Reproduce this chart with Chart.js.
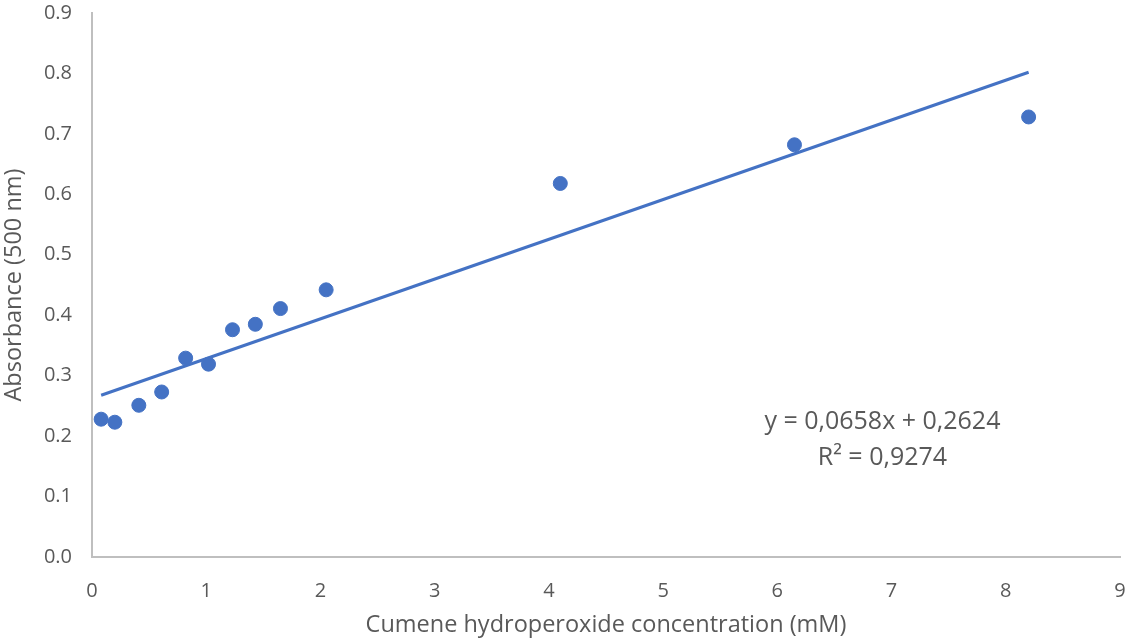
<!DOCTYPE html>
<html>
<head>
<meta charset="utf-8">
<script src="https://cdn.jsdelivr.net/npm/chart.js@4"></script>
<style>
  html, body { margin: 0; padding: 0; background: #fff; }
  #wrap { width: 1129px; height: 639px; }
</style>
</head>
<body>
<div id="wrap"><canvas id="chartContainer"></canvas></div>
<script>
// measured concentrations (mM) and absorbance
var concentration = [0.08, 0.2, 0.41, 0.61, 0.82, 1.02, 1.23, 1.43, 1.65, 2.05, 4.1, 6.15, 8.2];
var absorbance = [0.228, 0.223, 0.251, 0.273, 0.329, 0.319, 0.376, 0.385, 0.411, 0.442, 0.618, 0.682, 0.728];
var yTicks = [0, 0.1, 0.2, 0.3, 0.4, 0.5, 0.6, 0.7, 0.8, 0.9];
var xTicks = [0, 1, 2, 3, 4, 5, 6, 7, 8, 9];
var slope = 0.0658, intercept = 0.2624;
var equationText = ['y = 0,0658x + 0,2624', 'R² = 0,9274'];

var points = concentration.map(function (c, i) { return { x: c, y: absorbance[i] }; });
var xMin = concentration[0], xMax = concentration[concentration.length - 1];
var trend = [{ x: xMin, y: slope * xMin + intercept }, { x: xMax, y: slope * xMax + intercept }];

var grey = '#595959';
var axisGrey = '#bfbfbf';
var font = '"Open Sans", "Noto Sans", sans-serif';

// draws the trendline equation like the spreadsheet label
var equationLabel = {
    id: 'equationLabel',
    afterDatasetsDraw: function (chart) {
        var c = chart.ctx;
        var xs = chart.scales.x, ys = chart.scales.y;
        c.save();
        c.fillStyle = grey;
        c.font = '25px ' + font;
        c.textAlign = 'center';
        c.textBaseline = 'middle';
        c.fillText(equationText[0], xs.getPixelForValue(6.92), ys.getPixelForValue(0.223));
        c.fillText(equationText[1], xs.getPixelForValue(6.92), ys.getPixelForValue(0.164));
        c.restore();
    }
};

var ctx = document.getElementById('chartContainer').getContext('2d');
var chart = new Chart(ctx, {
    type: 'scatter',
    data: {
        datasets: [{
            label: 'Absorbance',
            data: points,
            backgroundColor: '#4472c4',
            borderColor: '#4472c4',
            pointRadius: 7,
            pointHoverRadius: 7,
            order: 1
        }, {
            label: 'Linear',
            type: 'line',
            data: trend,
            borderColor: '#4472c4',
            borderWidth: 3,
            pointRadius: 0,
            fill: false,
            order: 2
        }]
    },
    options: {
        responsive: true,
        maintainAspectRatio: false,
        animation: false,
        layout: { padding: { top: 13, right: 9, left: 0, bottom: 0 } },
        plugins: {
            legend: { display: false },
            tooltip: { enabled: false }
        },
        scales: {
            x: {
                type: 'linear',
                min: 0,
                max: 9,
                afterBuildTicks: function (axis) { axis.ticks = xTicks.map(function (v) { return { value: v }; }); },
                afterFit: function (axis) { axis.height = 82; axis.paddingLeft = 0; axis.paddingRight = 0; },
                grid: { display: false, drawTicks: true, tickLength: 6, tickColor: axisGrey },
                border: { display: true, color: axisGrey, width: 2 },
                ticks: { color: grey, font: { family: font, size: 20 }, padding: 16 },
                title: { display: true, text: 'Cumene hydroperoxide concentration (mM)', color: grey, font: { family: font, size: 23.5 }, padding: { top: 6, bottom: 0 } }
            },
            y: {
                min: 0,
                max: 0.9,
                afterBuildTicks: function (axis) { axis.ticks = yTicks.map(function (v) { return { value: v }; }); },
                afterFit: function (axis) { axis.width = 92; axis.paddingTop = 0; axis.paddingBottom = 0; },
                grid: { display: false, drawTicks: true, tickLength: 6, tickColor: axisGrey },
                border: { display: true, color: axisGrey, width: 2 },
                ticks: {
                    color: grey, font: { family: font, size: 20 }, padding: 14,
                    callback: function (v) { return Number(v).toFixed(1); }
                },
                title: { display: true, text: 'Absorbance (500 nm)', color: grey, font: { family: font, size: 23.5 }, padding: { top: 0, bottom: 4 } }
            }
        }
    },
    plugins: [equationLabel]
});
</script>
</body>
</html>
